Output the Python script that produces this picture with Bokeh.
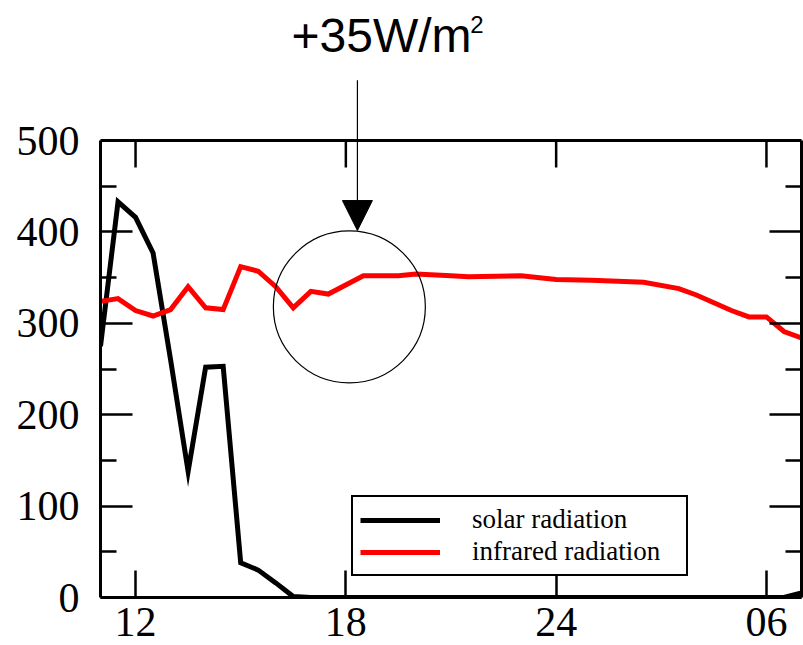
from bokeh.plotting import figure
from bokeh.models import (Range1d, LinearAxis, FixedTicker, Legend, LegendItem,
                          Label, Arrow, NormalHead, Span)
from bokeh.embed import file_html
from bokeh.resources import INLINE

# Time of day in hours (values past 24 are the next morning)
solar_hours = [11.0, 11.5, 12.0, 12.5, 13.0, 13.5, 14.0, 14.5, 15.0, 15.5, 16.0, 16.5,
               17.0, 18.0, 19.0, 20.0, 21.0, 22.0, 23.0, 24.0, 25.0, 26.0, 27.0, 28.0,
               29.0, 30.0, 30.5, 31.0]
solar_wm2 = [275, 433, 416, 377, 260, 138, 252, 253, 38, 30, 16, 1,
             0, 0, 0, 0, 0, 0, 0, 0, 0, 0, 0, 0,
             0, 0, 0, 5]

ir_hours = [11.0, 11.5, 12.0, 12.5, 13.0, 13.5, 14.0, 14.5, 15.0, 15.5, 16.0, 16.5,
            17.0, 17.5, 18.5, 19.5, 20.0, 21.0, 21.5, 23.0, 24.0, 25.0, 26.5, 27.5,
            28.0, 29.0, 29.5, 30.0, 30.5, 31.0]
ir_wm2 = [324, 327, 314, 308, 315, 340, 317, 315, 362, 357, 340, 317,
          335, 332, 352, 352, 354, 352, 351, 352, 348, 347, 345, 338,
          331, 314, 307, 307, 291, 284]

x_ticks = [12, 18, 24, 30]
x_tick_labels = {12: "12", 18: "18", 24: "24", 30: "06"}
y_ticks = [0, 100, 200, 300, 400, 500]
y_minor_ticks = [50, 150, 250, 350, 450]
y_top = 500

# highlighted region and its annotation
focus_hour, focus_wm2 = 18.1, 318
note_text, note_sup = "+35W/m", "2"

# The y range reaches above the plotted box so the note and arrow have room;
# the box itself is closed at y_top by the span and the bounded side axes.
p = figure(width=803, height=645, x_range=Range1d(11, 31), y_range=Range1d(0, 653.2),
           output_backend="svg", toolbar_location=None,
           x_axis_type=None, y_axis_type=None,
           min_border_left=100, min_border_right=2, min_border_top=0, min_border_bottom=48)
p.xgrid.visible = False
p.ygrid.visible = False
p.outline_line_color = None
p.background_fill_color = "white"
p.border_fill_color = "white"

serif = "Liberation Serif"


def style_axis(ax, tick_in, minor_in, labels):
    ax.axis_line_width = 3
    ax.axis_line_color = "black"
    ax.major_tick_in = tick_in
    ax.major_tick_out = 0
    ax.major_tick_line_width = 2.5
    ax.minor_tick_in = minor_in
    ax.minor_tick_out = 0
    ax.minor_tick_line_width = 2.5
    if labels:
        ax.major_label_text_font = serif
        ax.major_label_text_font_size = "42px"
        ax.major_label_text_color = "black"
    else:
        ax.major_label_text_font_size = "1px"
        ax.major_label_text_color = None
        ax.major_label_standoff = 0


xb = LinearAxis(ticker=FixedTicker(ticks=x_ticks), major_label_overrides=x_tick_labels)
style_axis(xb, 27, 0, True)
xb.major_label_standoff = 10
yl = LinearAxis(ticker=FixedTicker(ticks=y_ticks, minor_ticks=y_minor_ticks),
                bounds=(0, y_top))
style_axis(yl, 32, 16, True)
yl.major_label_standoff = 21
yr = LinearAxis(ticker=FixedTicker(ticks=y_ticks, minor_ticks=y_minor_ticks),
                bounds=(0, y_top))
style_axis(yr, 32, 16, False)
p.add_layout(xb, "below")
p.add_layout(yl, "left")
p.add_layout(yr, "right")

# top edge of the box with inward ticks at the same hours as the bottom axis
p.add_layout(Span(location=y_top, dimension="width", line_color="black", line_width=3))
p.segment(x0=x_ticks, y0=[y_top] * len(x_ticks), x1=x_ticks,
          y1=[y_top - 29.5] * len(x_ticks), line_color="black", line_width=2.5)

solar = p.line(solar_hours, solar_wm2, line_color="black", line_width=5, line_join="miter")
ir = p.line(ir_hours, ir_wm2, line_color="#ff0000", line_width=5, line_join="miter")

# circle marking the evening infrared values
p.scatter([focus_hour], [focus_wm2], marker="circle", size=152,
          fill_color=None, line_color="black", line_width=1.2)

p.add_layout(Arrow(x_start=18.33, y_start=566, x_end=18.33, y_end=401.5,
                   line_color="black", line_width=1.2,
                   end=NormalHead(size=30, fill_color="black", line_color="black")))
p.add_layout(Label(x=16.45, y=614.5, text=note_text, text_font="Liberation Sans",
                   text_font_size="48px", text_align="left", text_baseline="alphabetic",
                   text_color="black"))
p.add_layout(Label(x=21.55, y=627, text=note_sup, text_font="Liberation Sans",
                   text_font_size="24px", text_align="left", text_baseline="alphabetic",
                   text_color="black"))

legend = Legend(items=[LegendItem(label="solar radiation", renderers=[solar]),
                       LegendItem(label="infrared radiation", renderers=[ir])],
                location=(251, 21), orientation="vertical",
                label_text_font=serif, label_text_font_size="27px", label_text_color="black",
                glyph_width=80, glyph_height=30, label_height=30, label_width=207,
                label_standoff=32, padding=7, spacing=1, margin=0,
                border_line_color="black", border_line_width=2, border_line_alpha=1.0,
                background_fill_color="white", background_fill_alpha=1.0)
p.add_layout(legend, "center")

open("out.html", "w").write(file_html(p, INLINE))
